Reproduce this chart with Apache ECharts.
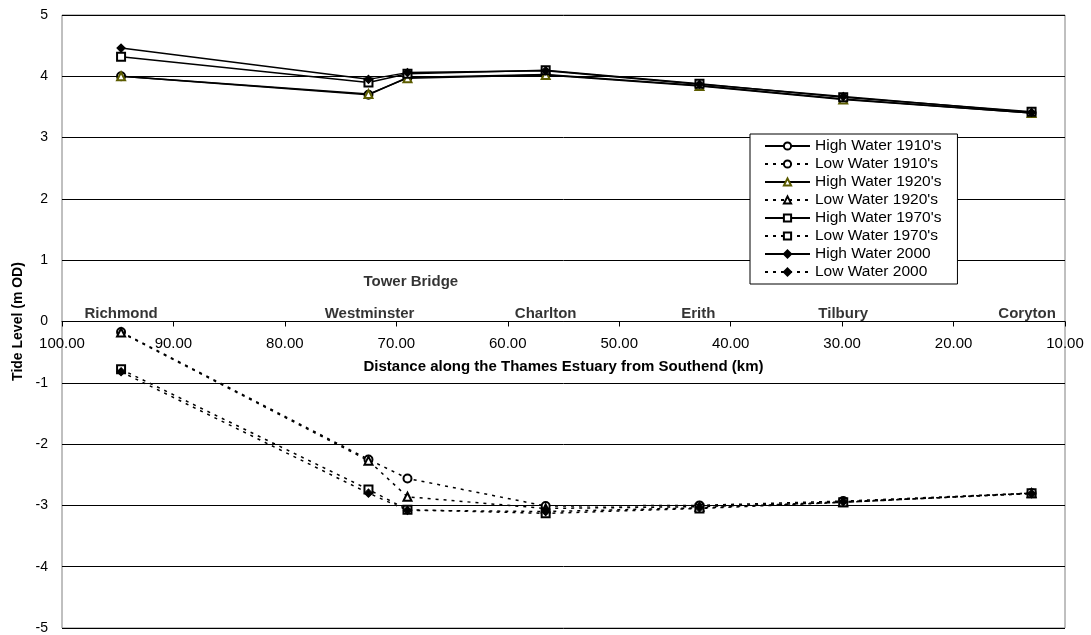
<!DOCTYPE html>
<html>
<head>
<meta charset="utf-8">
<script src="https://cdn.jsdelivr.net/npm/echarts@6/dist/echarts.min.js"></script>
<style>html,body{margin:0;padding:0;background:#fff;}#chart{width:1091px;height:635px;}</style>
</head>
<body>
<div id="chart"></div>
<script>
// Distance along the Thames Estuary from Southend (km) for each station
const distances = [94.7, 72.5, 69.0, 56.6, 42.8, 29.9, 13.0];

const hw1910 = [4.00, 3.70, 3.98, 4.03, 3.85, 3.63, 3.40];
const lw1910 = [-0.17, -2.25, -2.56, -3.01, -3.00, -2.93, -2.80];
const hw1920 = [4.00, 3.71, 3.97, 4.02, 3.84, 3.62, 3.40];
const lw1920 = [-0.18, -2.27, -2.86, -3.05, -3.02, -2.95, -2.80];
const hw1970 = [4.32, 3.90, 4.04, 4.10, 3.88, 3.66, 3.42];
const lw1970 = [-0.78, -2.74, -3.07, -3.13, -3.05, -2.95, -2.80];
const hw2000 = [4.46, 3.95, 4.06, 4.09, 3.87, 3.67, 3.41];
const lw2000 = [-0.82, -2.80, -3.08, -3.10, -3.04, -2.94, -2.81];

// Place names and their distances (km)
const places = ['Richmond', 'Westminster', 'Charlton', 'Erith', 'Tilbury', 'Coryton'];
const placeKm = [94.7, 72.4, 56.6, 42.9, 29.9, 13.4];
const bridgeName = 'Tower Bridge';
const bridgeKm = 68.7;

const FONT = 'Liberation Sans, Arial, sans-serif';
const W = 1091, H = 635, GT = 15, GB = 7;

function pts(vals) { return distances.map((d, i) => [d, vals[i]]); }

function hw(name, vals, symbol, color) {
  return {
    name, type: 'line', data: pts(vals), symbol, symbolSize: 8,
    lineStyle: { color: '#000', width: 1.5, type: 'solid' },
    itemStyle: { color: color || '#000', borderColor: color || '#000', borderWidth: 1.2 },
    z: 3
  };
}
function lw(name, vals, symbol, color) {
  return {
    name, type: 'line', data: pts(vals), symbol, symbolSize: 8,
    lineStyle: { color: '#000', width: 1.5, type: [3, 5] },
    itemStyle: { color: color || '#000', borderColor: color || '#000', borderWidth: 1.2 },
    z: 3
  };
}

const series = [
  hw("High Water 1910's", hw1910, 'emptyCircle'),
  lw("Low Water 1910's", lw1910, 'emptyCircle'),
  hw("High Water 1920's", hw1920, 'emptyTriangle', '#5c5c00'),
  lw("Low Water 1920's", lw1920, 'emptyTriangle'),
  hw("High Water 1970's", hw1970, 'emptyRect'),
  lw("Low Water 1970's", lw1970, 'emptyRect'),
  hw("High Water 2000", hw2000, 'diamond'),
  lw("Low Water 2000", lw2000, 'diamond'),
  {
    type: 'scatter', silent: true, symbolSize: 0,
    data: places.map((p, i) => ({ name: p, value: [placeKm[i], 0.13] }))
      .concat([{ name: bridgeName, value: [bridgeKm, 0.65] }]),
    label: { show: true, position: 'inside', formatter: '{b}', color: '#000',
      fontFamily: FONT, fontWeight: 'bold', fontSize: 15 },
    z: 2
  }
];

// x axis sits on the y = 0 line (middle of the -5..5 range)
const gridH = H - GT - GB;
const xOffset = -gridH / 2;

const chart = echarts.init(document.getElementById('chart'));
chart.setOption({
  animation: false,
  backgroundColor: '#fff',
  grid: { left: 62, right: 26, top: GT, bottom: GB, show: true, borderColor: '#808080', borderWidth: 1,
    containLabel: false, outerBoundsMode: 'none' },
  legend: {
    orient: 'vertical', left: 750, top: 134,
    data: series.slice(0, 8).map(s => s.name),
    backgroundColor: '#fff', borderColor: '#000', borderWidth: 1,
    padding: [4, 16, 4, 14], itemGap: 2, itemWidth: 45, itemHeight: 9,
    textStyle: { fontFamily: FONT, fontSize: 15.5, color: '#000' }
  },
  xAxis: {
    type: 'value', inverse: true, min: 10, max: 100, interval: 10,
    position: 'bottom', offset: xOffset,
    name: 'Distance along the Thames Estuary from Southend (km)',
    nameLocation: 'middle', nameGap: 38,
    nameTextStyle: { fontFamily: FONT, fontWeight: 'bold', fontSize: 15, color: '#000' },
    axisLine: { onZero: false, lineStyle: { color: '#000', width: 1 } },
    axisTick: { show: true, length: 5, lineStyle: { color: '#000' } },
    axisLabel: { formatter: v => v.toFixed(2), fontFamily: FONT, fontSize: 15, color: '#000', margin: 15 },
    splitLine: { show: false }
  },
  yAxis: {
    type: 'value', min: -5, max: 5, interval: 1,
    name: 'Tide Level (m OD)', nameLocation: 'middle', nameGap: 37,
    nameTextStyle: { fontFamily: FONT, fontWeight: 'bold', fontSize: 14, color: '#000' },
    axisLine: { show: false }, axisTick: { show: false },
    axisLabel: { fontFamily: FONT, fontSize: 14, color: '#000', margin: 14 },
    splitLine: { lineStyle: { color: '#000', width: 1 } }
  },
  series
});
</script>
</body>
</html>
